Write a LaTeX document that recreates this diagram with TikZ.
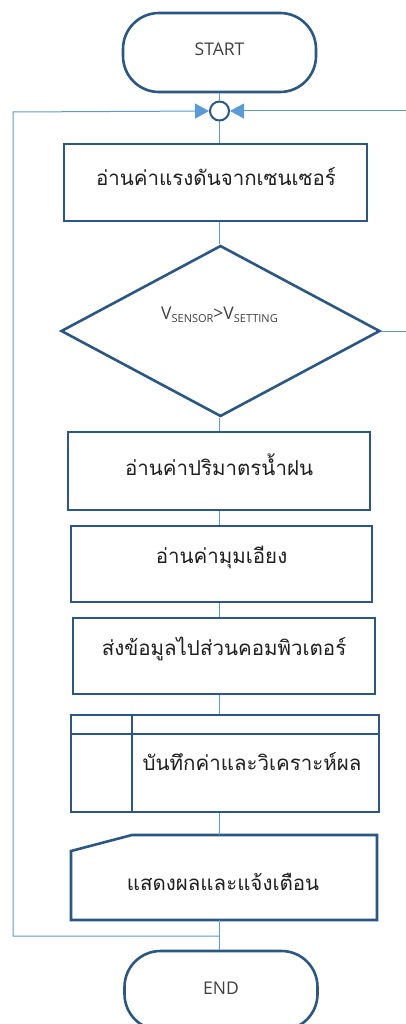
\documentclass[tikz,border=0pt]{standalone}
\usepackage{fontspec}
\setmainfont{Open Sans}
\newfontfamily\thaifont[Script=Thai]{Loma}
\usetikzlibrary{arrows.meta,shapes.geometric}
\definecolor{bdr}{HTML}{2A5783}
\definecolor{lnk}{HTML}{5B9BD5}
\definecolor{txtg}{HTML}{404040}
\tikzset{
  boxst/.style={draw=bdr,line width=2.6pt,fill=white,rectangle,inner sep=0pt},
  termst/.style={draw=bdr,line width=2.6pt,fill=white,rectangle,rounded corners=36pt,inner sep=0pt,minimum width=193pt,minimum height=79pt},
  thaitxt/.style={font=\thaifont\fontsize{20.5}{22}\selectfont,text=black!88},
  latxt/.style={text=txtg,font=\fontsize{17.5}{17.5}\selectfont},
  conn/.style={draw=lnk,line width=1pt},
  arr/.style={conn,-{Triangle[length=14pt,width=15pt]}}
}
\begin{document}
\begin{tikzpicture}[x=1pt,y=-1pt]
\clip (0,0) rectangle (406,1024);
\fill[white] (0,0) rectangle (406,1024);
% nodes
\node[termst] (start) at (219.5,52.5) {};
\node[latxt] (starttxt) at (219.5,49) {START};
\node[circle,draw=bdr,line width=2pt,fill=white,minimum size=19pt,inner sep=0pt] (circ) at (219.5,111) {};
\node[boxst,minimum width=303pt,minimum height=77pt] (b1) at (215.5,182.5) {};
\node[thaitxt] (t1) at (216,177) {อ่านค่าแรงดันจากเซนเซอร์};
\node[diamond,draw=bdr,line width=2.6pt,fill=white,minimum width=319pt,minimum height=171pt,inner sep=0pt] (dia) at (220.5,331) {};
\node[text=txtg,font=\fontsize{17.5}{17.5}\selectfont] (dtxt) at (219.5,315) {V\raisebox{-2.5pt}{\fontsize{11}{11}\selectfont SENSOR}>V\raisebox{-2.5pt}{\fontsize{11}{11}\selectfont SETTING}};
\node[boxst,minimum width=302pt,minimum height=78pt] (b2) at (219,471) {};
\node[thaitxt] (t2) at (219,465) {อ่านค่าปริมาตรน้ำฝน};
\node[boxst,minimum width=301pt,minimum height=76pt] (b3) at (221.5,564) {};
\node[thaitxt] (t3) at (221.5,557) {อ่านค่ามุมเอียง};
\node[boxst,minimum width=302pt,minimum height=76pt] (b4) at (224,656) {};
\node[thaitxt] (t4) at (224,649) {ส่งข้อมูลไปส่วนคอมพิวเตอร์};
\node[boxst,minimum width=308pt,minimum height=97pt] (b5) at (225,763.5) {};
\draw[draw=bdr,line width=2.6pt] (b5.north west |- 0,734) -- (b5.north east |- 0,734);
\draw[draw=bdr,line width=2.6pt] (132,715) -- (132,812);
\node[thaitxt] (t5) at (252,762) {บันทึกค่าและวิเคราะห์ผล};
\coordinate (m1) at (71,851);
\coordinate (m2) at (132,835);
\coordinate (m3) at (377,835);
\coordinate (m4) at (377,920);
\coordinate (m5) at (71,920);
\draw[draw=bdr,line width=2.6pt,fill=white,line join=miter] (m1) -- (m2) -- (m3) -- (m4) -- (m5) -- cycle;
\node[thaitxt] (t6) at (223,882) {แสดงผลและแจ้งเตือน};
\node[termst] (end) at (221,990.5) {};
\node[latxt] (endtxt) at (221,988) {END};
% connectors
\coordinate (b6top) at (219.5,835);
\coordinate (b6bot) at (219.5,920);
\coordinate (jn) at (219.5,936);
\coordinate (ll) at (13,936);
\coordinate (lu) at (13,112);
\coordinate (rr) at (406,331);
\coordinate (ru) at (406,111);
\draw[conn] (start.south -| circ) -- (circ.north);
\draw[conn] (circ.south) -- (circ.south |- b1.north);
\draw[conn] (circ |- b1.south) -- (dia.north -| circ);
\draw[conn] (circ |- dia.south) -- (circ |- b2.north);
\draw[conn] (circ |- b2.south) -- (circ |- b3.north);
\draw[conn] (circ |- b3.south) -- (circ |- b4.north);
\draw[conn] (circ |- b4.south) -- (circ |- b5.north);
\draw[conn] (circ |- b5.south) -- (b6top);
\draw[conn] (b6bot) -- (circ |- end.north);
\draw[arr] (jn) -- (ll) -- (lu) -- (circ.west);
\draw[conn] (dia.east) -- (rr);
\draw[arr] (ru) -- (circ.east);
\end{tikzpicture}
\end{document}
